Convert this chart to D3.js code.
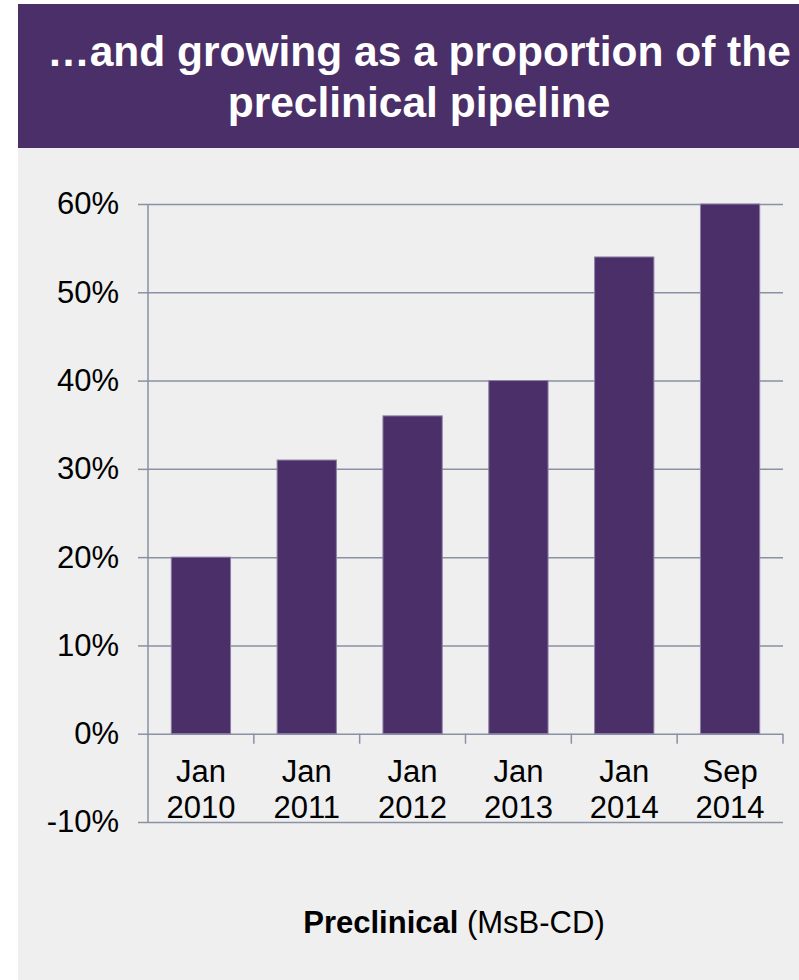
<!DOCTYPE html>
<html>
<head>
<meta charset="utf-8">
<script src="https://cdn.jsdelivr.net/npm/d3@7/dist/d3.min.js"></script>
<style>
  html, body { margin: 0; padding: 0; background: #ffffff; }
  svg { display: block; font-family: "Liberation Sans", Arial, Helvetica, sans-serif; }
</style>
</head>
<body>
<svg id="chart" width="799" height="980"></svg>
<script>
// Share of the preclinical pipeline, by snapshot date
const categories = [["Jan", "2010"], ["Jan", "2011"], ["Jan", "2012"], ["Jan", "2013"], ["Jan", "2014"], ["Sep", "2014"]];
const values = [20, 31, 36, 40, 54, 60];
const yTicks = [-10, 0, 10, 20, 30, 40, 50, 60];
const titleLines = ["\u2026and growing as a proportion of the", "preclinical pipeline"];

const svg = d3.select("#chart");
const W = 799, H = 980;
const purple = "#4b2f68";
const gridColor = "#8a91a3";

// header band and light panel
svg.append("rect").attr("x", 18).attr("y", 4).attr("width", W - 18).attr("height", 144).attr("fill", purple);
svg.append("rect").attr("x", 18).attr("y", 148).attr("width", W - 18).attr("height", H - 148).attr("fill", "#efefef");

const title = svg.append("text")
  .attr("fill", "#ffffff")
  .attr("font-weight", "bold")
  .attr("font-size", 42.5)
  .attr("text-anchor", "middle");
titleLines.forEach((t, i) => {
  title.append("tspan").attr("x", 419).attr("y", 66 + i * 51).text(t);
});

const plot = { left: 148, right: 783, top: 204, bottom: 822 };

const x = d3.scaleBand()
  .domain(categories.map(d => d.join(" ")))
  .range([plot.left, plot.right])
  .paddingInner(0.44)
  .paddingOuter(0.22);

const y = d3.scaleLinear().domain([-10, 60]).range([plot.bottom, plot.top]);

// horizontal gridlines with short left ticks
const gy = svg.append("g").attr("transform", `translate(${plot.left},0)`)
  .call(d3.axisLeft(y).tickValues(yTicks).tickSize(10).tickPadding(19).tickFormat(d => d + "%"));
gy.select(".domain").remove();
gy.selectAll(".tick line").attr("stroke", gridColor).attr("stroke-width", 1.5);
gy.selectAll(".tick text").attr("font-size", 31).attr("fill", "#000").attr("font-family", "'Liberation Sans', Arial, sans-serif");
gy.selectAll(".tick").append("line")
  .attr("x1", 0).attr("x2", plot.right - plot.left)
  .attr("stroke", gridColor).attr("stroke-width", 1.5);

// vertical axis line
svg.append("line")
  .attr("x1", plot.left).attr("x2", plot.left)
  .attr("y1", y(60)).attr("y2", y(-10))
  .attr("stroke", gridColor).attr("stroke-width", 1.5);

// bars
svg.append("g").selectAll("rect")
  .data(values)
  .join("rect")
  .attr("x", (d, i) => x(categories[i].join(" ")))
  .attr("width", x.bandwidth())
  .attr("y", d => y(d))
  .attr("height", d => y(0) - y(d))
  .attr("fill", purple)
  .attr("stroke", "#8c80a6")
  .attr("stroke-width", 1);

// category separators on the zero line
const step = x.step();
const sepX = d3.range(categories.length).map(i => plot.left + step * (i + 1));
svg.append("g").selectAll("line")
  .data(sepX)
  .join("line")
  .attr("x1", d => d).attr("x2", d => d)
  .attr("y1", y(0)).attr("y2", y(0) + 10)
  .attr("stroke", gridColor).attr("stroke-width", 1.5);

// two-line category labels
const labels = svg.append("g")
  .attr("font-size", 31)
  .attr("text-anchor", "middle")
  .attr("fill", "#000");
categories.forEach(c => {
  const cx = x(c.join(" ")) + x.bandwidth() / 2;
  const t = labels.append("text");
  t.append("tspan").attr("x", cx).attr("y", 782).text(c[0]);
  t.append("tspan").attr("x", cx).attr("y", 818).text(c[1]);
});

// axis caption
const cap = svg.append("text")
  .attr("x", 454).attr("y", 933)
  .attr("text-anchor", "middle")
  .attr("font-size", 31)
  .attr("fill", "#000");
cap.append("tspan").attr("font-weight", "bold").text("Preclinical");
cap.append("tspan").text(" (MsB-CD)");
</script>
</body>
</html>
